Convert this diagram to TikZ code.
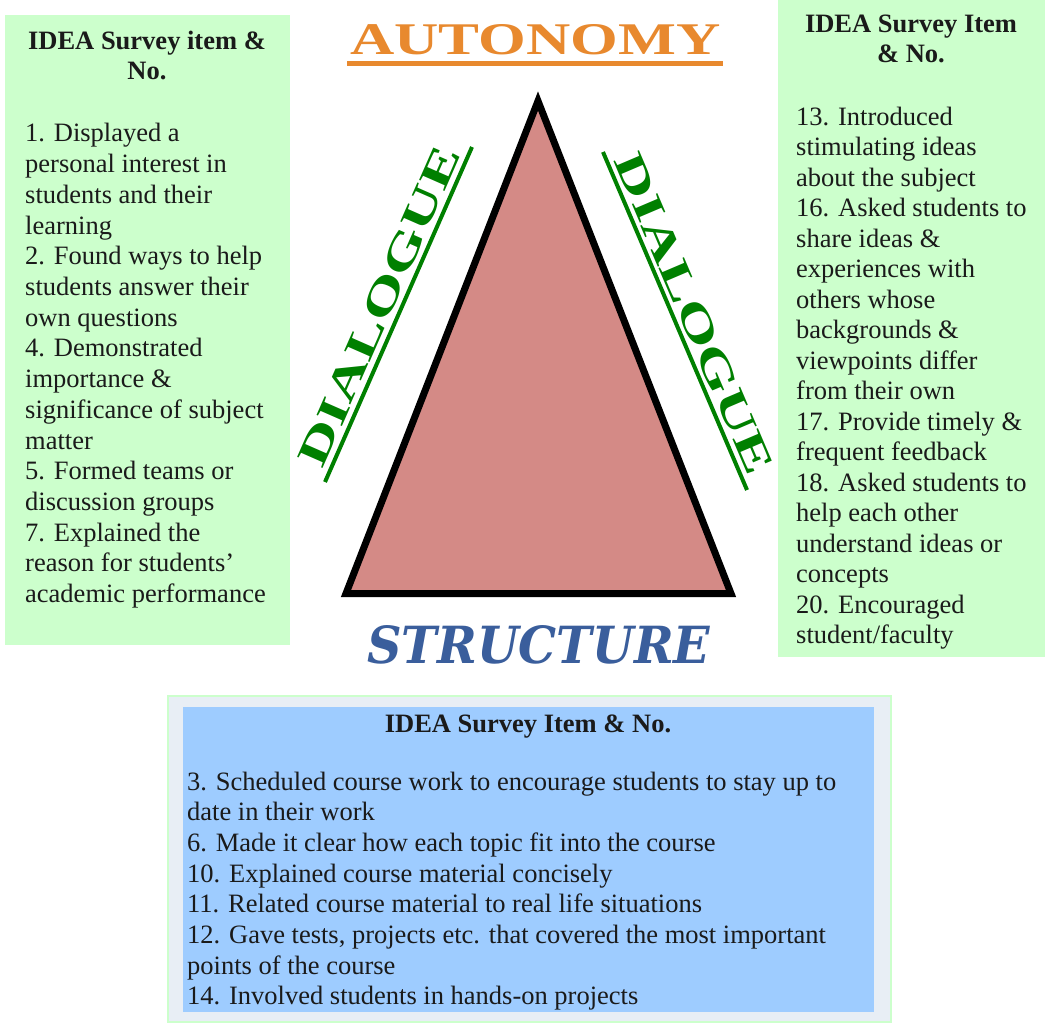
\documentclass[tikz,border=0pt]{standalone}
\usepackage{fontspec}
\usepackage{graphicx}
\setmainfont{Liberation Serif}
\newfontfamily\structfont{DejaVu Serif}
\definecolor{boxgreen}{RGB}{204,255,204}
\definecolor{boxblue}{RGB}{158,204,255}
\definecolor{boxband}{RGB}{232,238,245}
\definecolor{autoorange}{RGB}{232,137,46}
\definecolor{structblue}{RGB}{58,94,156}
\definecolor{dialgreen}{RGB}{0,128,0}
\definecolor{trifill}{RGB}{212,138,134}
\definecolor{textdark}{RGB}{26,26,26}
\begin{document}
\begin{tikzpicture}[x=1pt,y=-1pt,
  body/.style={anchor=base west, inner sep=0, font=\fontsize{26.5}{30.7}\selectfont, text=textdark},
  ttl/.style={anchor=base, inner sep=0, font=\fontsize{26.5}{30.7}\selectfont\bfseries, text=textdark},
  wordart/.style={inner sep=0, font=\bfseries}]
\useasboundingbox (0,0) rectangle (1045,1025);
\fill[white] (0,0) rectangle (1045,1025);

% left box
\fill[boxgreen] (5,15) rectangle (290,645);
\node[ttl] (lt1) at (147,50) {IDEA Survey item \&};
\node[ttl] (lt2) at (147,80) {No.};
\foreach \t [count=\i from 0] in {1. Displayed a, personal interest in, students and their, learning, 2. Found ways to help, students answer their, own questions, 4. Demonstrated, importance \&, significance of subject, matter, 5. Formed teams or, discussion groups, 7. Explained the, reason for students’, academic performance}
  \node[body] (l\i) at ({25},{142+30.7*\i}) {\t};

% right box
\fill[boxgreen] (778,0) rectangle (1045,657);
\node[ttl] (rt1) at (911,33) {IDEA Survey Item};
\node[ttl] (rt2) at (911,63) {\& No.};
\begin{scope}
\clip (778,0) rectangle (1045,657);
\foreach \t [count=\i from 0] in {13. Introduced, stimulating ideas, about the subject, 16. Asked students to, share ideas \&, experiences with, others whose, backgrounds \&, viewpoints differ, from their own, 17. Provide timely \&, frequent feedback, 18. Asked students to, help each other, understand ideas or, concepts, 20. Encouraged, student/faculty}
  \node[body] (r\i) at ({796},{125+30.5*\i}) {\t};
\end{scope}

% bottom box
\filldraw[fill=boxband, draw=boxgreen, line width=2] (168,696) rectangle (891,1022);
\fill[boxblue] (183,707) rectangle (874,1012);
\node[ttl] (bt) at (528,732) {IDEA Survey Item \& No.};
\foreach \t [count=\i from 0] in {3. Scheduled course work to encourage students to stay up to, date in their work, 6. Made it clear how each topic fit into the course, 10. Explained course material concisely, 11. Related course material to real life situations, {12. Gave tests, projects etc. that covered the most important}, points of the course, 14. Involved students in hands-on projects}
  \node[body] (b\i) at ({187},{790+30.7*\i}) {\t};

% triangle
\coordinate (apex) at (538,101);
\coordinate (bl) at (346,593.5);
\coordinate (br) at (731,593.5);
\draw[line width=7, line join=miter, fill=trifill] (apex) -- (bl) -- (br) -- cycle;

% AUTONOMY
\node[wordart, anchor=base west, text=autoorange] (auto) at (350,55) {\resizebox{370pt}{30pt}{AUTONOMY}};
\fill[autoorange] (347,61.5) rectangle (723,66.5);

% STRUCTURE
\node[inner sep=0, anchor=base west, text=structblue] (struct) at (367,663) {\resizebox{343pt}{38pt}{\structfont\bfseries\itshape STRUCTURE}};

% DIALOGUE left
\node[wordart, anchor=base, rotate=66.3, text=dialgreen] (dl) at (392,312) {\resizebox{345pt}{28pt}{DIALOGUE}};
\coordinate (dla) at (325,482);
\coordinate (dlb) at (472,147);
\draw[dialgreen, line width=4] (dla) -- (dlb);

% DIALOGUE right
\node[wordart, anchor=base, rotate=-66.9, text=dialgreen] (dr) at (681,319) {\resizebox{345pt}{28pt}{DIALOGUE}};
\coordinate (dra) at (603,152);
\coordinate (drb) at (747,490);
\draw[dialgreen, line width=4] (dra) -- (drb);
\end{tikzpicture}
\end{document}
